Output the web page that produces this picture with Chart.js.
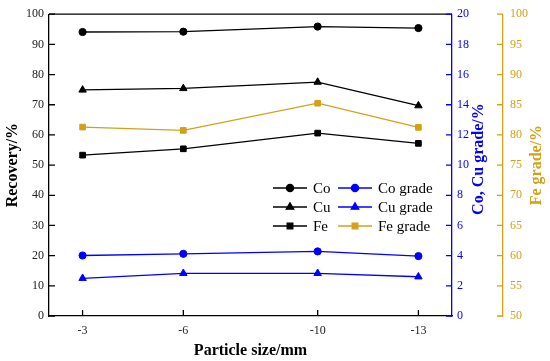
<!DOCTYPE html>
<html>
<head>
<meta charset="utf-8">
<script src="https://cdn.jsdelivr.net/npm/chart.js@4.4.0/dist/chart.umd.min.js"></script>
<style>
  html, body { margin: 0; padding: 0; background: #fff; }
  #wrap { width: 550px; height: 361px; }
</style>
</head>
<body>
<div id="wrap"><canvas id="chart"></canvas></div>
<script>
// --- Data ---
const particleSizes = [-3, -6, -10, -13];
const coRecovery = [94.1, 94.2, 95.9, 95.4];
const cuRecovery = [74.9, 75.4, 77.5, 69.7];
const feRecovery = [53.3, 55.4, 60.6, 57.2];
const coGrade = [4.01, 4.12, 4.28, 3.97];
const cuGrade = [2.50, 2.83, 2.83, 2.60];
const feGrade = [81.3, 80.75, 85.25, 81.25];

const recoveryTicks = [0, 10, 20, 30, 40, 50, 60, 70, 80, 90, 100];
const coCuTicks = [0, 2, 4, 6, 8, 10, 12, 14, 16, 18, 20];
const feTicks = [50, 55, 60, 65, 70, 75, 80, 85, 90, 95, 100];

// --- Styles ---
const BLACK = '#000000';
const BLUE = '#0000ff';
const GOLD = '#d4a017';
const SERIF = "'Liberation Serif', 'Times New Roman', serif";

function pts(values) {
    return particleSizes.map((x, i) => ({ x: x, y: values[i] }));
}

function series(label, values, color, style, axis, radius) {
    return {
        label: label,
        data: pts(values),
        yAxisID: axis,
        borderColor: color,
        backgroundColor: color,
        borderWidth: 1.3,
        pointStyle: style,
        pointRadius: radius,
        pointBorderWidth: 1,
        pointBorderColor: color,
        pointBackgroundColor: color,
        tension: 0
    };
}

const datasets = [
    series('Co', coRecovery, BLACK, 'circle', 'y', 3.6),
    series('Cu', cuRecovery, BLACK, 'triangle', 'y', 4.3),
    series('Fe', feRecovery, BLACK, 'rect', 'y', 4),
    series('Co grade', coGrade, BLUE, 'circle', 'yGrade', 3.6),
    series('Cu grade', cuGrade, BLUE, 'triangle', 'yGrade', 4.3),
    series('Fe grade', feGrade, GOLD, 'rect', 'yFe', 4)
];

// --- Plugins ---
// inward tick marks on every axis + top frame line
const innerTicks = {
    id: 'innerTicks',
    afterDatasetsDraw(chart) {
        const ctx = chart.ctx;
        const area = chart.chartArea;
        const len = 6;
        ctx.save();
        ctx.lineWidth = 1.3;

        ctx.strokeStyle = BLACK;
        ctx.beginPath();
        ctx.moveTo(area.left, area.top);
        ctx.lineTo(area.right, area.top);
        ctx.stroke();

        const sx = chart.scales.x;
        ctx.beginPath();
        sx.ticks.forEach(t => {
            const px = sx.getPixelForValue(t.value);
            ctx.moveTo(px, sx.top);
            ctx.lineTo(px, sx.top - len);
        });
        ctx.stroke();

        const sy = chart.scales.y;
        ctx.beginPath();
        sy.ticks.forEach(t => {
            const py = sy.getPixelForValue(t.value);
            ctx.moveTo(sy.right, py);
            ctx.lineTo(sy.right + len, py);
        });
        ctx.stroke();

        [['yGrade', BLUE], ['yFe', GOLD]].forEach(([id, color]) => {
            const s = chart.scales[id];
            ctx.strokeStyle = color;
            ctx.beginPath();
            s.ticks.forEach(t => {
                const py = s.getPixelForValue(t.value);
                ctx.moveTo(s.left, py);
                ctx.lineTo(s.left - len, py);
            });
            ctx.stroke();
        });
        ctx.restore();
    }
};

// right axis titles read bottom-to-top
const rightTitles = {
    id: 'rightTitles',
    afterDraw(chart) {
        const ctx = chart.ctx;
        const area = chart.chartArea;
        const midY = (area.top + area.bottom) / 2;
        const draw = (text, color, x, y) => {
            ctx.save();
            ctx.translate(x, y);
            ctx.rotate(-Math.PI / 2);
            ctx.fillStyle = color;
            ctx.font = 'bold 16px ' + SERIF;
            ctx.textAlign = 'center';
            ctx.textBaseline = 'middle';
            ctx.fillText(text, 0, 0);
            ctx.restore();
        };
        draw('Co, Cu grade/%', BLUE, chart.scales.yGrade.left + 27, midY - 6);
        draw('Fe grade/%', GOLD, chart.scales.yFe.left + 34, midY);
    }
};

// two-column legend inside the plot
const twoColLegend = {
    id: 'twoColLegend',
    afterDraw(chart) {
        const ctx = chart.ctx;
        const cols = [273, 338];
        const rows = [188, 207, 226];
        const sampleW = 34;
        ctx.save();
        ctx.font = '15px ' + SERIF;
        ctx.textBaseline = 'middle';
        ctx.textAlign = 'left';
        chart.data.datasets.forEach((ds, i) => {
            const x0 = cols[Math.floor(i / 3)];
            const y = rows[i % 3];
            ctx.strokeStyle = ds.borderColor;
            ctx.fillStyle = ds.borderColor;
            ctx.lineWidth = ds.borderWidth;
            ctx.beginPath();
            ctx.moveTo(x0, y);
            ctx.lineTo(x0 + sampleW, y);
            ctx.stroke();
            Chart.helpers.drawPoint(ctx, {
                pointStyle: ds.pointStyle,
                radius: ds.pointRadius,
                rotation: 0,
                borderWidth: 1
            }, x0 + sampleW / 2, y);
            ctx.fillStyle = BLACK;
            ctx.fillText(ds.label, x0 + sampleW + 6, y + 1);
        });
        ctx.restore();
    }
};

// --- Chart ---
const tickFont = { family: SERIF, size: 12 };
const titleFont = { family: SERIF, size: 16, weight: 'bold' };

new Chart(document.getElementById('chart'), {
    type: 'line',
    data: { datasets: datasets },
    options: {
        responsive: true,
        maintainAspectRatio: false,
        animation: false,
        layout: { padding: { top: 12, left: 0, right: 0, bottom: 0 } },
        plugins: {
            legend: { display: false },
            tooltip: { enabled: false }
        },
        scales: {
            x: {
                type: 'linear',
                reverse: true,
                min: -14,
                max: -2,
                afterBuildTicks: s => { s.ticks = particleSizes.map(v => ({ value: v })); },
                afterFit: s => { s.height = 45; },
                grid: { display: false, drawTicks: false },
                border: { display: true, color: BLACK, width: 1.3 },
                ticks: { font: tickFont, color: '#222', padding: 8, callback: v => String(v) },
                title: { display: true, text: 'Particle size/mm', font: titleFont, color: BLACK, padding: { top: 0, bottom: 1 } }
            },
            y: {
                position: 'left',
                min: 0,
                max: 100,
                afterBuildTicks: s => { s.ticks = recoveryTicks.map(v => ({ value: v })); },
                afterFit: s => { s.width = 49; },
                grid: { display: false, drawTicks: false },
                border: { display: true, color: BLACK, width: 1.3 },
                ticks: { font: tickFont, color: '#222', padding: 5 },
                title: { display: true, text: 'Recovery/%', font: titleFont, color: BLACK, padding: { top: 3, bottom: 0 } }
            },
            yGrade: {
                position: 'right',
                weight: 0,
                min: 0,
                max: 20,
                afterBuildTicks: s => { s.ticks = coCuTicks.map(v => ({ value: v })); },
                afterFit: s => { s.width = 51; },
                grid: { display: false, drawTicks: false },
                border: { display: true, color: BLUE, width: 1.3 },
                ticks: { font: tickFont, color: BLUE, padding: 5 }
            },
            yFe: {
                position: 'right',
                weight: 1,
                min: 50,
                max: 100,
                afterBuildTicks: s => { s.ticks = feTicks.map(v => ({ value: v })); },
                afterFit: s => { s.width = 47; },
                grid: { display: false, drawTicks: false },
                border: { display: true, color: GOLD, width: 1.3 },
                ticks: { font: tickFont, color: GOLD, padding: 7 }
            }
        }
    },
    plugins: [innerTicks, rightTitles, twoColLegend]
});
</script>
</body>
</html>
